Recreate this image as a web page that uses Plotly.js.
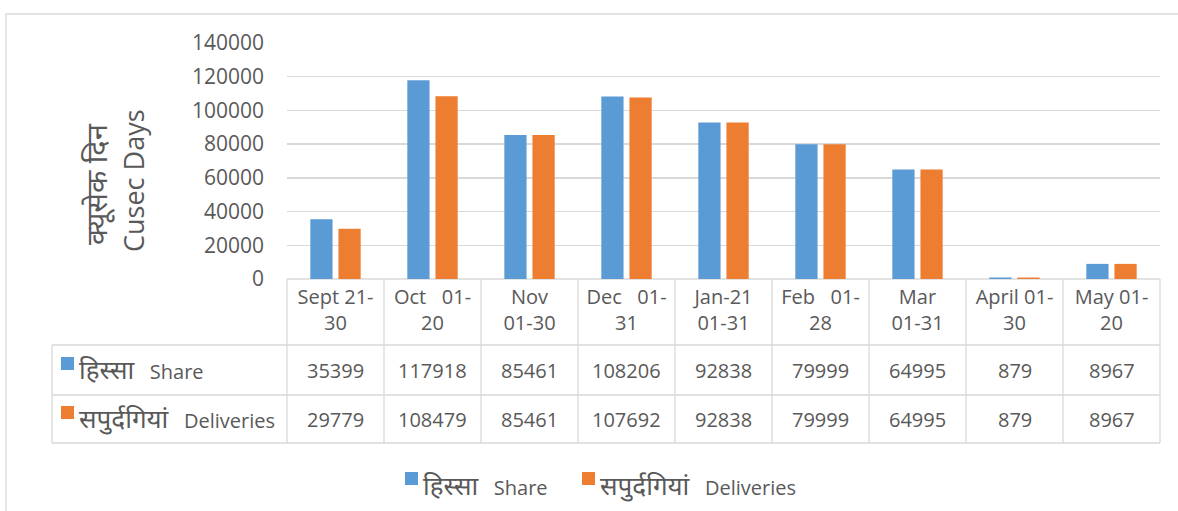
<!DOCTYPE html>
<html><head><meta charset="utf-8">
<script src="https://cdn.plot.ly/plotly-3.0.1.min.js"></script>
<style>html,body{margin:0;padding:0;background:#fff;overflow:hidden}</style>
</head><body>
<div id="chart" style="width:1178px;height:511px"></div>
<script>
const categories = ["Sept 21-30","Oct 01-20","Nov 01-30","Dec 01-31","Jan-21 01-31","Feb 01-28","Mar 01-31","April 01-30","May 01-20"];
const tickLabels = ["Sept 21-<br>30","Oct\u00a0\u00a0\u00a001-<br>20","Nov<br>01-30","Dec\u00a0\u00a0\u00a001-<br>31","Jan-21<br>01-31","Feb\u00a0\u00a0\u00a001-<br>28","Mar<br>01-31","April 01-<br>30","May 01-<br>20"];
const shareValues = [35399,117918,85461,108206,92838,79999,64995,879,8967];
const deliveryValues = [29779,108479,85461,107692,92838,79999,64995,879,8967];
const seriesHindi = ["हिस्सा","सपुर्दगियां"];
const seriesEnglish = ["Share","Deliveries"];
const yTitleHindi = "क्यूसेक दिन";
const yTitleEnglish = "Cusec Days";

const BLUE = "#5B9BD5", ORANGE = "#ED7D31", GRID = "#D9D9D9", TXT = "#595959";
const FONT = "'Open Sans', 'Noto Sans', sans-serif";
const L = 287, R = 1160, T = 43, B = 279;
const px = x => (x - L) / (R - L);
const py = y => (B - y) / (B - T);
const label = i => `<span style="font-size:26px">${seriesHindi[i]}</span>\u00a0\u00a0\u00a0${seriesEnglish[i]}`;

const traces = [
  {type:"bar", name:seriesHindi[0] + " " + seriesEnglish[0], x:categories, y:shareValues, marker:{color:BLUE}},
  {type:"bar", name:seriesHindi[1] + " " + seriesEnglish[1], x:categories, y:deliveryValues, marker:{color:ORANGE}}
];

const line = (x0,y0,x1,y1,xref) => ({type:"line", xref:xref||"paper", yref:"paper", x0:x0, x1:x1, y0:y0, y1:y1, line:{color:GRID, width:1.3}, layer:"below"});
const box = (x0,y0,x1,y1,c) => ({type:"rect", xref:"paper", yref:"paper", x0:px(x0), x1:px(x1), y0:py(y1), y1:py(y0), fillcolor:c, line:{width:0}});
const shapes = [];
// outer chart border
shapes.push({type:"rect", xref:"paper", yref:"paper", x0:px(6), x1:px(1190), y0:py(530), y1:py(14), line:{color:GRID, width:1.3}, layer:"below"});
// table horizontal lines
[345,395,443].forEach(y => shapes.push(line(px(52), py(y), px(1160), py(y))));
shapes.push(line(px(287), py(279), px(1160), py(279)));
// table vertical lines
shapes.push(line(px(52), py(345), px(52), py(443)));
shapes.push(line(px(287), py(279), px(287), py(443)));
shapes.push(line(px(1160), py(279), px(1160), py(443)));
for (let i = 0; i < categories.length - 1; i++) shapes.push(line(i + 0.5, py(279), i + 0.5, py(443), "x"));
// legend keys in table
shapes.push(box(61, 357, 74, 370, BLUE));
shapes.push(box(61, 406, 74, 419, ORANGE));
// bottom legend keys
shapes.push(box(405, 472, 418, 485, BLUE));
shapes.push(box(582, 472, 595, 485, ORANGE));

const annotations = [];
const F = (s) => ({size:s, color:TXT, family:FONT});
annotations.push({xref:"paper", yref:"paper", x:px(95), y:py(184), text:yTitleHindi, textangle:-90, showarrow:false, font:F(29), xanchor:"center", yanchor:"middle"});
annotations.push({xref:"paper", yref:"paper", x:px(133), y:py(181), text:yTitleEnglish, textangle:-90, showarrow:false, font:F(27), xanchor:"center", yanchor:"middle"});
annotations.push({xref:"paper", yref:"paper", x:px(77), y:py(369), text:label(0), showarrow:false, xanchor:"left", yanchor:"middle", font:F(20)});
annotations.push({xref:"paper", yref:"paper", x:px(77), y:py(418), text:label(1), showarrow:false, xanchor:"left", yanchor:"middle", font:F(20)});
annotations.push({xref:"paper", yref:"paper", x:px(421), y:py(485), text:label(0), showarrow:false, xanchor:"left", yanchor:"middle", font:F(20)});
annotations.push({xref:"paper", yref:"paper", x:px(598), y:py(485), text:label(1), showarrow:false, xanchor:"left", yanchor:"middle", font:F(20)});
categories.forEach((c, i) => {
  annotations.push({xref:"x", yref:"paper", x:c, y:py(370), text:String(shareValues[i]), showarrow:false, xanchor:"center", yanchor:"middle", font:F(20)});
  annotations.push({xref:"x", yref:"paper", x:c, y:py(419), text:String(deliveryValues[i]), showarrow:false, xanchor:"center", yanchor:"middle", font:F(20)});
});

const layout = {
  width:1178, height:511,
  margin:{l:L, r:1178-R, t:T, b:511-B, pad:0},
  paper_bgcolor:"#fff", plot_bgcolor:"#fff",
  font:{family:FONT, color:TXT, size:20},
  barmode:"group", bargap:0.42, bargroupgap:0.21,
  showlegend:false,
  xaxis:{type:"category", categoryarray:categories, tickvals:categories, ticktext:tickLabels, showgrid:false, showline:false, zeroline:false, ticks:"", ticklabelstandoff:4, tickfont:F(20), fixedrange:true, automargin:false, range:[-0.5, categories.length-0.5]},
  yaxis:{range:[0,140000], dtick:20000, tickformat:"d", gridcolor:GRID, gridwidth:1.3, showline:false, zeroline:false, ticks:"", ticklabelstandoff:22, tickfont:F(21), fixedrange:true, automargin:false},
  shapes:shapes, annotations:annotations
};
Plotly.newPlot("chart", traces, layout, {displayModeBar:false, staticPlot:true});
</script>
</body></html>
